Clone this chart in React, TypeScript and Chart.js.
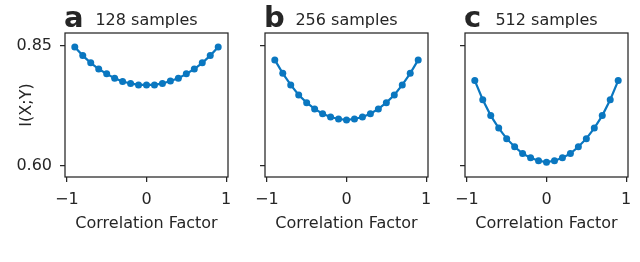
import React, { useEffect, useRef } from "react";
import { Chart, registerables } from "chart.js";

Chart.register(...registerables);

const correlation = [-0.9, -0.8, -0.7, -0.6, -0.5, -0.4, -0.3, -0.2, -0.1, 0, 0.1, 0.2, 0.3, 0.4, 0.5, 0.6, 0.7, 0.8, 0.9];
const mi128 = [0.848, 0.830, 0.815, 0.802, 0.792, 0.783, 0.776, 0.772, 0.769, 0.769, 0.769, 0.772, 0.777, 0.783, 0.792, 0.802, 0.815, 0.830, 0.848];
const mi256 = [0.821, 0.793, 0.769, 0.748, 0.732, 0.719, 0.709, 0.702, 0.698, 0.696, 0.698, 0.702, 0.709, 0.719, 0.732, 0.748, 0.769, 0.793, 0.821];
const mi512 = [0.778, 0.738, 0.705, 0.679, 0.657, 0.640, 0.626, 0.617, 0.611, 0.608, 0.611, 0.617, 0.626, 0.640, 0.657, 0.679, 0.705, 0.738, 0.778];
const panelLetters = ["a", "b", "c"];
const panelTitles = ["128 samples", "256 samples", "512 samples"];
const xTicks = [-1, 0, 1];
const yTicks = [0.6, 0.85];
const xLabel = "Correlation Factor";
const yLabel = "I(X;Y)";

const series = [mi128, mi256, mi512];
const FONT = "'DejaVu Sans', sans-serif";
const INK = "#262626";
const BLUE = "#0a77c0";

function Panel({ index }: { index: number }) {
  const ref = useRef<HTMLCanvasElement | null>(null);
  useEffect(() => {
    if (!ref.current) return;
    const values = series[index];
    const showYLabels = index === 0;
    const decor = {
      id: "decor" + index,
      afterDraw(chart: any) {
        const { ctx, chartArea } = chart;
        const { left, right, top, bottom } = chartArea;
        ctx.save();
        ctx.strokeStyle = INK;
        ctx.lineWidth = 1.25;
        ctx.strokeRect(left, top, right - left, bottom - top);
        ctx.fillStyle = INK;
        ctx.textBaseline = "alphabetic";
        ctx.textAlign = "left";
        ctx.font = `bold 29px ${FONT}`;
        ctx.fillText(panelLetters[index], left - 1, 27);
        ctx.font = `16px ${FONT}`;
        ctx.textAlign = "center";
        ctx.fillText(panelTitles[index], (left + right) / 2, 25);
        ctx.fillText(xLabel, (left + right) / 2, 228);
        if (showYLabels) {
          ctx.translate(31, (top + bottom) / 2);
          ctx.rotate(-Math.PI / 2);
          ctx.textAlign = "center";
          ctx.fillText(yLabel, 0, 0);
        }
        ctx.restore();
      },
    };
    const chart = new Chart(ref.current, {
      type: "line",
      data: {
        datasets: [
          {
            data: correlation.map((x, i) => ({ x, y: values[i] })),
            borderColor: BLUE,
            backgroundColor: BLUE,
            borderWidth: 2.2,
            pointRadius: 3.5,
            pointBorderWidth: 0,
            pointBackgroundColor: BLUE,
            tension: 0,
          },
        ],
      },
      options: {
        responsive: false,
        animation: false,
        events: [],
        layout: { padding: { top: 33, right: 12, bottom: 0, left: 0 } },
        plugins: { legend: { display: false }, tooltip: { enabled: false }, title: { display: false } },
        scales: {
          x: {
            type: "linear",
            min: -1.023,
            max: 1.023,
            afterBuildTicks: (s: any) => {
              s.ticks = xTicks.map((v) => ({ value: v }));
            },
            afterFit: (s: any) => {
              s.height = 85;
            },
            grid: { drawOnChartArea: false, drawTicks: true, tickLength: 5, color: INK, lineWidth: 1.25 },
            border: { display: false },
            ticks: {
              color: INK,
              font: { family: FONT, size: 16 },
              padding: 8,
              maxRotation: 0,
              callback: (v: any) => (Number(v) < 0 ? "\u2212" + Math.abs(Number(v)) : String(v)),
            },
          },
          y: {
            type: "linear",
            min: 0.5771,
            max: 0.8771,
            afterBuildTicks: (s: any) => {
              s.ticks = yTicks.map((v) => ({ value: v }));
            },
            afterFit: (s: any) => {
              s.width = 65;
            },
            grid: { drawOnChartArea: false, drawTicks: true, tickLength: 5, color: INK, lineWidth: 1.25 },
            border: { display: false },
            ticks: {
              color: INK,
              font: { family: FONT, size: 16 },
              padding: 8,
              callback: (v: any) => (showYLabels ? Number(v).toFixed(2) : ""),
            },
          },
        },
      },
      plugins: [decor],
    } as any);
    return () => chart.destroy();
  }, [index]);
  return (
    <canvas
      ref={ref}
      width={240}
      height={262}
      style={{ position: "absolute", left: index * 200, top: 0, width: 240, height: 262 }}
    />
  );
}

export default function App() {
  return (
    <div style={{ position: "absolute", left: 0, top: 0, width: 640, height: 262, background: "#fff", overflow: "hidden" }}>
      {[0, 1, 2].map((i) => (
        <Panel key={i} index={i} />
      ))}
    </div>
  );
}
